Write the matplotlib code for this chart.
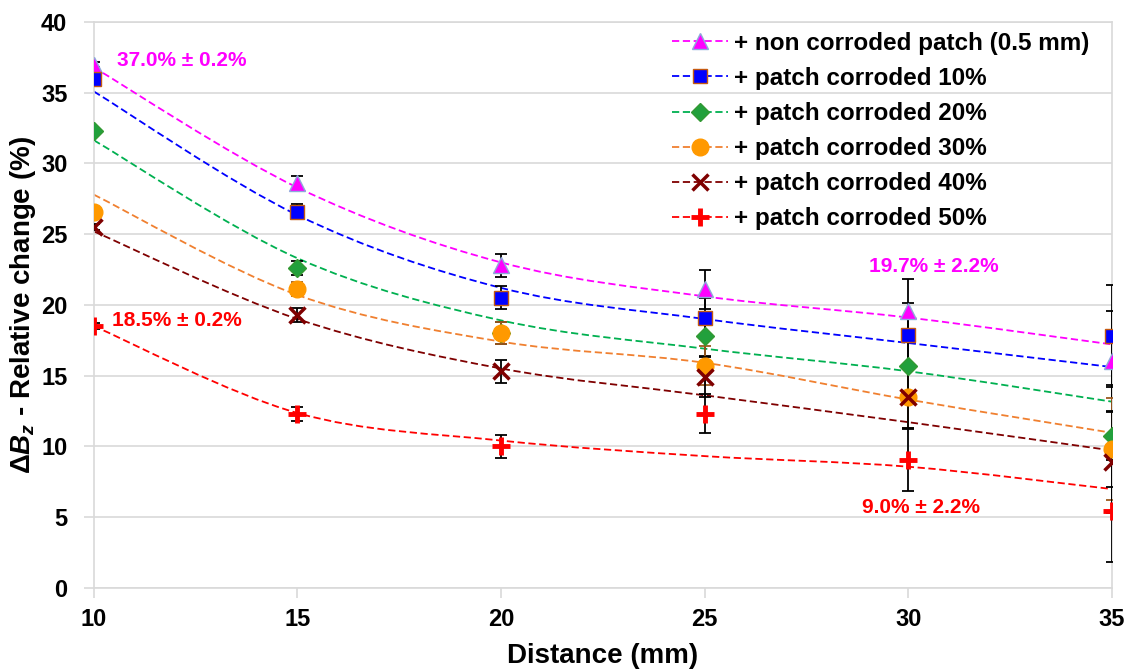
import numpy as np
import matplotlib
matplotlib.use('Agg')
import matplotlib.pyplot as plt
from matplotlib.path import Path
from matplotlib.patches import PathPatch
from matplotlib.lines import Line2D

plt.rcParams['font.family'] = ['Liberation Sans', 'DejaVu Sans']
plt.rcParams['font.weight'] = 'bold'
plt.rcParams['mathtext.fontset'] = 'custom'
plt.rcParams['mathtext.rm'] = 'Liberation Sans:bold'
plt.rcParams['mathtext.it'] = 'Liberation Sans:italic:bold'
plt.rcParams['mathtext.bf'] = 'Liberation Sans:bold'

distance = [10, 15, 20, 25, 30, 35]
error = [0.2, 0.5, 0.8, 1.4, 2.2, 3.6]

# measured values
non_corroded = [37.0, 28.6, 22.8, 21.1, 19.6, 16.0]
corroded_10 = [36.0, 26.6, 20.5, 19.1, 17.9, 17.8]
corroded_20 = [32.3, 22.6, 18.0, 17.8, 15.7, 10.7]
corroded_30 = [26.6, 21.1, 18.0, 15.7, 13.5, 9.8]
corroded_40 = [25.5, 19.3, 15.3, 14.9, 13.5, 8.9]
corroded_50 = [18.5, 12.3, 10.0, 12.3, 9.0, 5.4]

# dashed (smoothed) trend curves
trend_non = [36.8, 28.3, 23.0, 20.6, 19.1, 17.2]
trend_10 = [35.1, 26.35, 21.2, 19.0, 17.3, 15.6]
trend_20 = [31.65, 23.3, 18.9, 16.9, 15.3, 13.15]
trend_30 = [27.8, 20.7, 17.4, 15.9, 13.3, 10.95]
trend_40 = [25.2, 19.0, 15.5, 13.6, 11.7, 9.7]
trend_50 = [18.5, 12.35, 10.4, 9.3, 8.55, 6.97]

labels = ['+ non corroded patch (0.5 mm)', '+ patch corroded 10%', '+ patch corroded 20%',
          '+ patch corroded 30%', '+ patch corroded 40%', '+ patch corroded 50%']


def smooth_path(x, y):
    # Catmull-Rom style bezier, like a spreadsheet "smoothed line"
    pts = list(zip(x, y))
    verts = [pts[0]]
    codes = [Path.MOVETO]
    n = len(pts)
    for i in range(n - 1):
        p0 = np.array(pts[max(i - 1, 0)])
        p1 = np.array(pts[i])
        p2 = np.array(pts[i + 1])
        p3 = np.array(pts[min(i + 2, n - 1)])
        c1 = p1 + (p2 - p0) / 6
        c2 = p2 - (p3 - p1) / 6
        verts += [tuple(c1), tuple(c2), tuple(p2)]
        codes += [Path.CURVE4] * 3
    return Path(verts, codes)


fig = plt.figure(figsize=(11.29, 6.7), dpi=100)
ax = fig.add_axes([0.083, 0.123, 0.902, 0.844])

series = [
    (non_corroded, trend_non, '#FF00FF', '^', 12, '#FF00FF', '#8EA9DB', 1, 'black'),
    (corroded_10, trend_10, '#0000FF', 's', 10, '#0000FF', '#C55A11', 1, 'black'),
    (corroded_20, trend_20, '#00B050', 'D', 9, '#22A03C', '#339933', 1, 'black'),
    (corroded_30, trend_30, '#F08030', 'o', 12, '#FF9900', '#FF9900', 1, '#9C5A1E'),
    (corroded_40, trend_40, '#7F0000', 'x', 11, '#7F0000', '#7F0000', 2.5, 'black'),
    (corroded_50, trend_50, '#FF0000', '+', 13, '#FF0000', '#FF0000', 3.5, 'black'),
]

handles = []
for vals, trend, lc, mk, ms, fc, mec, mew, ecol in series:
    ax.errorbar(distance, vals, yerr=error, fmt='none', ecolor=ecol, elinewidth=1.3,
                capsize=4, capthick=1.3, zorder=3)
    ax.add_patch(PathPatch(smooth_path(distance, trend), fill=False, edgecolor=lc,
                           lw=1.3, linestyle=(0, (4, 2)), zorder=2))
    ax.plot(distance, vals, linestyle='none', marker=mk, ms=ms, mfc=fc, mec=mec,
            mew=mew, zorder=4)
    handles.append(Line2D([], [], color=lc, lw=1.3, dashes=(4, 2), marker=mk, ms=ms,
                          mfc=fc, mec=mec, mew=mew))

ax.set_xlim(10, 35)
ax.set_ylim(0, 40)
ax.set_xticks(distance)
ax.set_yticks(range(0, 41, 5))
ax.grid(axis='y', color='#D9D9D9', lw=1.2)
ax.set_axisbelow(True)
for s in ax.spines.values():
    s.set_color('#D9D9D9')
    s.set_linewidth(1.2)
ax.tick_params(axis='x', length=7, color='#D9D9D9', width=1.2, labelsize=17, pad=8)
ax.tick_params(axis='y', length=7, color='#D9D9D9', width=1.2, labelsize=17, pad=12)
for t in ax.get_xticklabels() + ax.get_yticklabels():
    t.set_fontweight('bold')

ax.set_xlabel('Distance (mm)', fontsize=20, fontweight='bold', labelpad=8)
ax.set_ylabel(r'$\Delta B_z$ - Relative change (%)', fontsize=20, fontweight='bold', labelpad=2)

ax.legend(handles, labels, loc='upper left', frameon=False,
          handlelength=2.3, handletextpad=0.25, labelspacing=0.5,
          borderaxespad=0, borderpad=0,
          prop={'weight': 'bold', 'size': 17.5}, bbox_to_anchor=(0.568, 0.983))

ax.text(10.56, 37.3, '37.0% ± 0.2%', color='#FF00FF', fontsize=15, fontweight='bold', va='center')
ax.text(10.44, 18.9, '18.5% ± 0.2%', color='#FF0000', fontsize=15, fontweight='bold', va='center')
ax.text(30.63, 22.7, '19.7% ± 2.2%', color='#FF00FF', fontsize=15, fontweight='bold',
        va='center', ha='center')
ax.text(30.3, 5.7, '9.0% ± 2.2%', color='#FF0000', fontsize=15, fontweight='bold',
        va='center', ha='center')

fig.savefig('out.png', dpi=100)
